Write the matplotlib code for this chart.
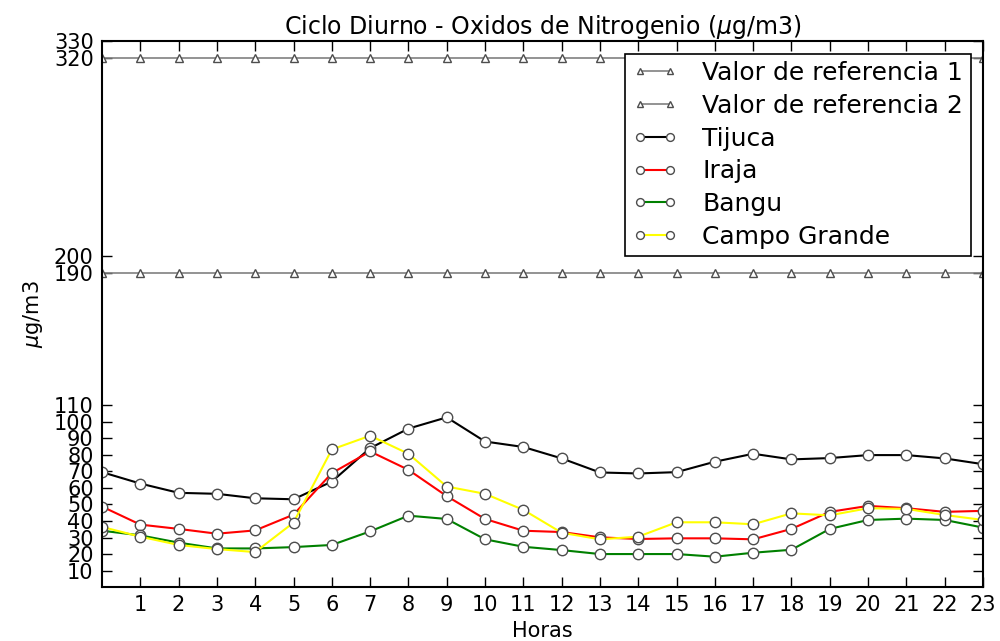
import numpy as np
import matplotlib

matplotlib.use("Agg")
import matplotlib.pyplot as plt

# ---------------------------------------------------------------------
# data
# ---------------------------------------------------------------------

horas = list(range(24))

ref_1 = [320] * 24
ref_2 = [190] * 24

tijuca = [69.5, 62.6, 57.0, 56.4, 53.7, 53.1, 63.8, 84.0, 95.8, 102.6, 88.0, 84.7,
          77.8, 69.3, 68.7, 69.5, 75.8, 80.6, 77.2, 78.0, 79.8, 79.8, 77.8, 74.3]
iraja = [48.7, 37.8, 35.2, 32.3, 34.3, 43.8, 68.9, 82.0, 70.9, 55.0, 41.2, 34.1,
         33.3, 30.1, 29.1, 29.5, 29.5, 28.9, 35.2, 45.5, 49.1, 47.7, 45.5, 46.1]
bangu = [34.1, 31.3, 26.9, 23.4, 23.4, 24.2, 25.5, 33.7, 43.2, 41.2, 28.9, 24.4,
         22.4, 20.0, 20.0, 20.0, 18.4, 20.8, 22.6, 35.2, 40.6, 41.4, 40.6, 36.0]
campo_grande = [36.4, 30.5, 25.5, 23.0, 21.2, 39.0, 83.2, 91.5, 80.6, 60.8, 56.4, 46.7,
                32.9, 28.9, 30.5, 39.2, 39.2, 38.0, 44.6, 43.4, 47.7, 47.3, 43.6, 40.6]

y_ticks = [10, 20, 30, 40, 50, 60, 70, 80, 90, 100, 110, 190, 200, 320, 330]
x_ticks = list(range(1, 24))

# ---------------------------------------------------------------------
# plot
# ---------------------------------------------------------------------

fig = plt.figure(figsize=(10, 6.41), dpi=100)
ax = fig.add_axes([0.102, 0.084, 0.881, 0.852])

ref_style = dict(color="0.5", lw=1.2, marker="^", ms=6,
                 mfc="white", mec="0.3", mew=1.0)
ax.plot(horas, ref_1, label="Valor de referencia 1", **ref_style)
ax.plot(horas, ref_2, label="Valor de referencia 2", **ref_style)

series = [
    ("Tijuca", tijuca, "black"),
    ("Iraja", iraja, "#ff0000"),
    ("Bangu", bangu, "#008000"),
    ("Campo Grande", campo_grande, "#ffff00"),
]
for name, vals, col in series:
    ax.plot(horas, vals, color=col, lw=1.5, marker="o", ms=7.5,
            mfc="white", mec="0.3", mew=1.0, label=name)

ax.set_xlim(0, 23)
ax.set_ylim(0, 330)
ax.set_xticks(x_ticks)
ax.set_yticks(y_ticks)
ax.tick_params(direction="in", top=True, right=True, length=7,
               width=1, labelsize=15, pad=6)
for sp in ax.spines.values():
    sp.set_linewidth(1.5)

ax.set_title("Ciclo Diurno - Oxidos de Nitrogenio ($\\mu$g/m3)", fontsize=17, pad=5)
ax.set_xlabel("Horas", fontsize=15, labelpad=4)
ax.set_ylabel("$\\mu$g/m3", fontsize=15, labelpad=6)

leg = ax.legend(loc="upper right", fontsize=18, numpoints=2, fancybox=False,
                framealpha=1, edgecolor="black", handlelength=1.8,
                handletextpad=1.0, markerscale=0.75,
                borderaxespad=0.5, labelspacing=0.35, borderpad=0.3)
leg.get_frame().set_linewidth(1.2)

fig.savefig("out.png", dpi=100)
